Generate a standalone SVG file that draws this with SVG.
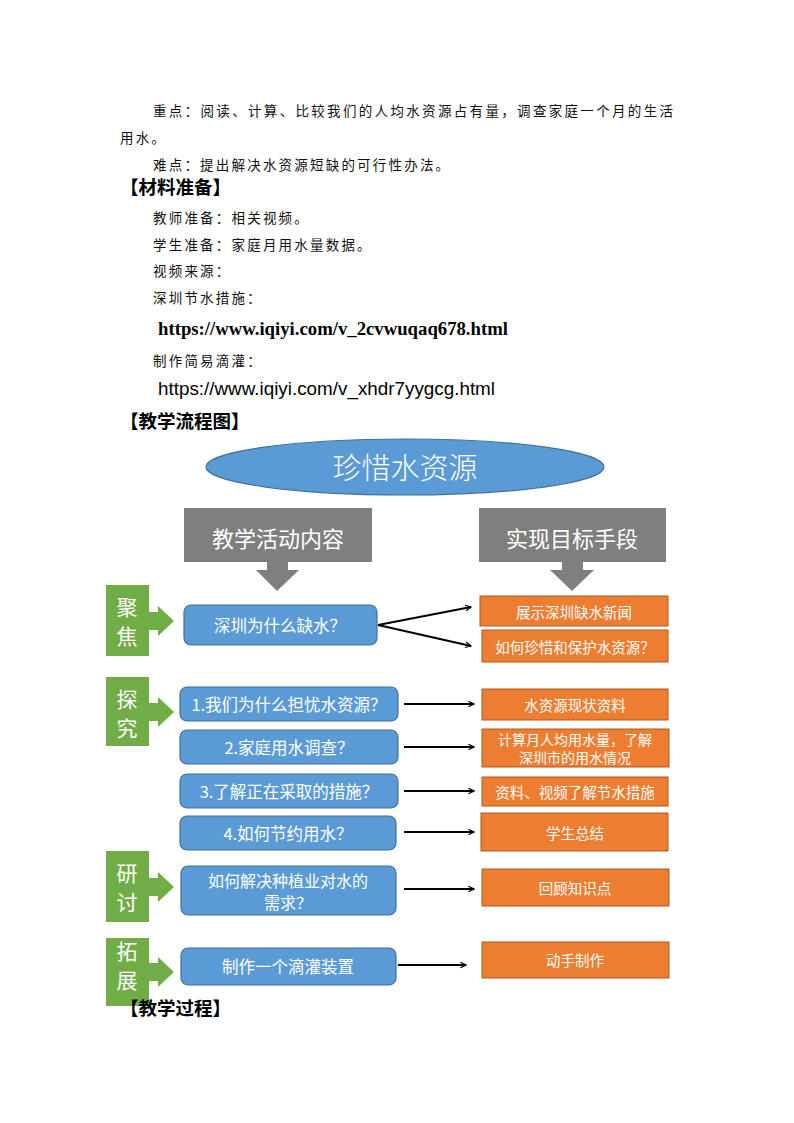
<svg xmlns="http://www.w3.org/2000/svg" width="794" height="1123" viewBox="0 0 794 1123">
<style>
.body{font-family:"Noto Sans CJK SC","Liberation Sans",sans-serif;font-size:13.5px;fill:#111;letter-spacing:2.2px}
.head{font-family:"Noto Sans CJK SC","Liberation Sans",sans-serif;font-size:18.5px;font-weight:bold;fill:#000}
.blue{fill:#5B9BD5;stroke:#41719C;stroke-width:1.2}
.orange{fill:#ED7D31;stroke:#AE5A21;stroke-width:1}
.green{fill:#70AD47}
.gray{fill:#7F7F7F}
.wt{font-family:"Noto Sans CJK SC","Liberation Sans",sans-serif;fill:#fff;text-anchor:middle;dominant-baseline:central}
.bt{font-size:16.5px}
.ot{font-size:14.5px}
.gt{font-size:21px}
.conn{stroke:#000;stroke-width:1.8;fill:none;marker-end:url(#arr)}
</style>
<defs>
<marker id="arr" viewBox="0 0 10 10" refX="9" refY="5" markerWidth="7" markerHeight="7" markerUnits="userSpaceOnUse" orient="auto">
<path d="M1,1 L9,5 L1,9" fill="none" stroke="#000" stroke-width="1.6"/>
</marker>
</defs>

<g id="intro">
<text class="body" x="153" y="116" textLength="520" lengthAdjust="spacing" style="letter-spacing:0">重点：阅读、计算、比较我们的人均水资源占有量，调查家庭一个月的生活</text>
<text class="body" x="120" y="143">用水。</text>
<text class="body" x="153" y="170">难点：提出解决水资源短缺的可行性办法。</text>
<text class="head" x="120" y="194">【材料准备】</text>
<text class="body" x="153" y="223">教师准备：相关视频。</text>
<text class="body" x="153" y="250">学生准备：家庭月用水量数据。</text>
<text class="body" x="153" y="276">视频来源：</text>
<text class="body" x="153" y="303">深圳节水措施：</text>
<text x="158" y="335" font-family="Liberation Serif,serif" font-weight="bold" font-size="18" textLength="350" lengthAdjust="spacingAndGlyphs">https://www.iqiyi.com/v_2cvwuqaq678.html</text>
<text class="body" x="153" y="366">制作简易滴灌：</text>
<text x="158" y="395" font-family="Liberation Sans,sans-serif" font-size="18" textLength="337" lengthAdjust="spacingAndGlyphs">https://www.iqiyi.com/v_xhdr7yygcg.html</text>
<text class="head" x="120" y="428">【教学流程图】</text>
</g>

<g id="title">
<ellipse cx="405" cy="467" rx="199" ry="28" class="blue"/>
<text class="wt" x="405" y="466" font-size="29" font-weight="300">珍惜水资源</text>
</g>

<g id="col-left-head">
<rect x="184" y="508" width="188" height="54" class="gray"/>
<text class="wt" x="278" y="537" font-size="22">教学活动内容</text>
<polygon points="267,562 288,562 288,570 299,570 277,591 256,570 267,570" class="gray"/>
</g>
<g id="col-right-head">
<rect x="479" y="508" width="187" height="54" class="gray"/>
<text class="wt" x="572" y="537" font-size="22">实现目标手段</text>
<polygon points="562,562 583,562 583,570 594,570 572,591 550,570 562,570" class="gray"/>
</g>

<g id="stage-focus">
<rect x="106" y="585" width="43" height="71" class="green"/>
<polygon points="149,612 158,612 158,606 174,621 158,636 158,630 149,630" class="green"/>
<text class="wt gt" x="127" y="606">聚</text>
<text class="wt gt" x="127" y="635">焦</text>
</g>
<g id="stage-explore">
<rect x="106" y="677" width="43" height="69" class="green"/>
<polygon points="149,703 158,703 158,697 174,712 158,727 158,721 149,721" class="green"/>
<text class="wt gt" x="127" y="698">探</text>
<text class="wt gt" x="127" y="727">究</text>
</g>
<g id="stage-discuss">
<rect x="106" y="851" width="43" height="71" class="green"/>
<polygon points="149,878 158,878 158,872 174,887 158,902 158,896 149,896" class="green"/>
<text class="wt gt" x="127" y="872">研</text>
<text class="wt gt" x="127" y="901">讨</text>
</g>
<g id="stage-extend">
<rect x="106" y="938" width="43" height="68" class="green"/>
<polygon points="149,963 158,963 158,957 174,972 158,987 158,981 149,981" class="green"/>
<text class="wt gt" x="127" y="950">拓</text>
<text class="wt gt" x="127" y="979">展</text>
</g>

<g id="q0"><rect x="184" y="605" width="193" height="40" rx="7" class="blue"/><text class="wt bt" x="280" y="625">深圳为什么缺水？</text></g>
<g id="q1"><rect x="180" y="687" width="218" height="34" rx="7" class="blue"/><text class="wt bt" x="289" y="704">1.我们为什么担忧水资源？</text></g>
<g id="q2"><rect x="180" y="730" width="218" height="34" rx="7" class="blue"/><text class="wt bt" x="289" y="747">2.家庭用水调查？</text></g>
<g id="q3"><rect x="180" y="774" width="218" height="34" rx="7" class="blue"/><text class="wt bt" x="289" y="791">3.了解正在采取的措施？</text></g>
<g id="q4"><rect x="180" y="816" width="216" height="34" rx="7" class="blue"/><text class="wt bt" x="288" y="833">4.如何节约用水？</text></g>
<g id="q5"><rect x="181" y="866" width="215" height="49" rx="7" class="blue"/><text class="wt" x="288" y="880" font-size="16px">如何解决种植业对水的</text><text class="wt" x="288" y="902" font-size="16px">需求？</text></g>
<g id="q6"><rect x="181" y="948" width="215" height="37" rx="7" class="blue"/><text class="wt bt" x="288" y="966">制作一个滴灌装置</text></g>

<g id="a0"><rect x="480" y="596" width="188" height="30" class="orange"/><text class="wt ot" x="574" y="611">展示深圳缺水新闻</text></g>
<g id="a0b"><rect x="482" y="630" width="186" height="32" class="orange"/><text class="wt ot" x="575" y="646">如何珍惜和保护水资源？</text></g>
<g id="a1"><rect x="482" y="689" width="186" height="31" class="orange"/><text class="wt ot" x="575" y="704">水资源现状资料</text></g>
<g id="a2"><rect x="482" y="729" width="187" height="38" class="orange"/><text class="wt" x="575" y="739" font-size="14px">计算月人均用水量，了解</text><text class="wt" x="575" y="757" font-size="14px">深圳市的用水情况</text></g>
<g id="a3"><rect x="482" y="777" width="186" height="29" class="orange"/><text class="wt ot" x="575" y="791">资料、视频了解节水措施</text></g>
<g id="a4"><rect x="481" y="813" width="187" height="38" class="orange"/><text class="wt ot" x="575" y="832">学生总结</text></g>
<g id="a5"><rect x="482" y="869" width="187" height="37" class="orange"/><text class="wt ot" x="575" y="887">回顾知识点</text></g>
<g id="a6"><rect x="482" y="942" width="187" height="36" class="orange"/><text class="wt ot" x="575" y="959">动手制作</text></g>

<g id="connectors">
<line x1="378" y1="625" x2="471" y2="607" class="conn"/>
<line x1="378" y1="625" x2="471" y2="646" class="conn"/>
<line x1="404" y1="704" x2="474" y2="704" class="conn"/>
<line x1="404" y1="747" x2="474" y2="747" class="conn"/>
<line x1="404" y1="791" x2="474" y2="791" class="conn"/>
<line x1="404" y1="832" x2="474" y2="832" class="conn"/>
<line x1="404" y1="889" x2="474" y2="889" class="conn"/>
<line x1="398" y1="965" x2="466" y2="965" class="conn"/>
</g>

<g id="footer">
<text class="head" x="120" y="1015">【教学过程】</text>
</g>
</svg>
